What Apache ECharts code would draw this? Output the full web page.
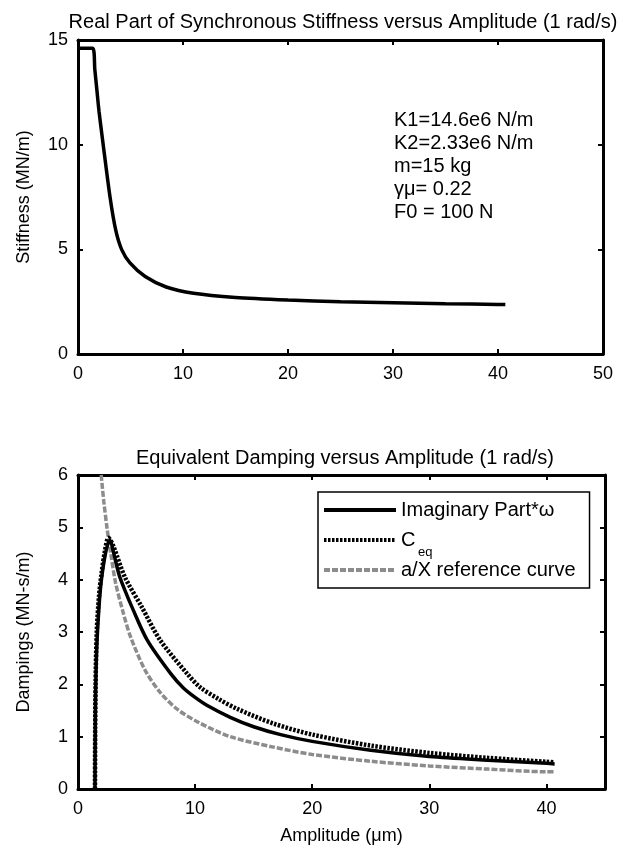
<!DOCTYPE html>
<html><head><meta charset="utf-8">
<script src="https://cdn.jsdelivr.net/npm/echarts@6/dist/echarts.min.js"></script>
<style>html,body{margin:0;padding:0;background:#fff}#c{width:623px;height:852px}</style>
</head><body><div id="c"></div>
<script>
// Top plot: real part of synchronous stiffness (MN/m) vs amplitude (um)
const stiffX = [0, 1.4, 1.6, 1.8, 2.0, 2.4, 3.05, 3.6, 4.15, 4.95, 6.4, 8.4, 11, 15, 20, 25, 30, 35, 40, 40.7];
const stiffY = [14.6, 14.6, 13.6, 12.6, 11.6, 10.0, 7.5, 5.9, 5.0, 4.35, 3.7, 3.2, 2.9, 2.7, 2.58, 2.5, 2.45, 2.4, 2.37, 2.36];

// Bottom plot: damping (MN-s/m) vs amplitude (um)
const imagX = [1.45, 1.47, 1.5, 1.6, 1.8, 2.0, 2.3, 2.6, 2.75, 3.0, 3.5, 4.0, 4.6, 5.9, 7.9, 9, 10, 11, 13, 15, 17.3, 20, 25, 30, 35, 40, 40.7];
const imagY = [0, 1.0, 1.8, 2.7, 3.5, 4.0, 4.45, 4.72, 4.75, 4.55, 4.1, 3.8, 3.48, 2.85, 2.21, 1.93, 1.75, 1.6, 1.37, 1.19, 1.04, 0.91, 0.74, 0.62, 0.55, 0.49, 0.48];
const ceqX = [1.45, 1.47, 1.5, 1.6, 1.8, 2.0, 2.3, 2.6, 3.0, 4.0, 5.44, 7.0, 9.3, 10.4, 12, 13.6, 16.7, 20, 25, 30, 35, 40, 40.7];
const ceqY = [0, 1.2, 2.0, 3.0, 3.7, 4.1, 4.55, 4.8, 4.65, 4.05, 3.48, 2.85, 2.21, 1.95, 1.72, 1.53, 1.25, 1.04, 0.83, 0.69, 0.595, 0.52, 0.51];
const refX = [1.98, 2.2, 2.5, 2.8, 3.2, 3.87, 4.5, 5.73, 7.0, 8.5, 10.4, 13, 16.7, 20, 25, 30, 35, 40, 40.7];
const refY = [6.0, 5.5, 4.95, 4.5, 3.95, 3.36, 2.9, 2.27, 1.85, 1.52, 1.26, 1.0, 0.8, 0.66, 0.53, 0.44, 0.38, 0.33, 0.33];

const topTicksX = [0, 10, 20, 30, 40, 50];
const topTicksY = [0, 5, 10, 15];
const botTicksX = [0, 10, 20, 30, 40];
const botTicksY = [0, 1, 2, 3, 4, 5, 6];

const notes = ['K1=14.6e6 N/m', 'K2=2.33e6 N/m', 'm=15 kg', '\u03b3\u03bc= 0.22', 'F0 = 100 N'];
const seriesNames = ['Imaginary Part*\u03c9', 'C', 'a/X reference curve'];
const subscript = 'eq';

const zip = (xs, ys) => xs.map((x, i) => [x, ys[i]]);
const FONT = 'Liberation Sans, Arial, sans-serif';
const lbl = {color: '#000', fontSize: 18, fontFamily: FONT};

function xAx(gi, min, max, ticks, pos, showLabels, name) {
  return {
    type: 'value', gridIndex: gi, min, max, interval: 10, position: pos,
    axisLine: {show: true, onZero: false, lineStyle: {color: '#000', width: 3}},
    axisTick: {show: true, inside: true, length: 5, lineStyle: {color: '#000', width: 2}, customValues: ticks},
    axisLabel: {show: showLabels, ...lbl, margin: 11, customValues: ticks},
    splitLine: {show: false},
    name: name || '', nameLocation: 'middle', nameGap: 38,
    nameTextStyle: {color: '#000', fontSize: 18, fontFamily: FONT}
  };
}
function yAx(gi, min, max, interval, ticks, pos, showLabels, name) {
  return {
    type: 'value', gridIndex: gi, min, max, interval, position: pos,
    axisLine: {show: true, onZero: false, lineStyle: {color: '#000', width: 3}},
    axisTick: {show: true, inside: true, length: 5, lineStyle: {color: '#000', width: 2}, customValues: ticks},
    axisLabel: {show: showLabels, ...lbl, margin: 10, customValues: ticks},
    splitLine: {show: false},
    name: name || '', nameLocation: 'middle', nameGap: 45, nameRotate: 90,
    nameTextStyle: {color: '#000', fontSize: 18, fontFamily: FONT}
  };
}

const chart = echarts.init(document.getElementById('c'), null, {renderer: 'canvas'});
chart.setOption({
  backgroundColor: '#fff',
  animation: false,
  title: [
    {text: 'Real Part of Synchronous Stiffness versus Amplitude (1 rad/s)', left: 338, top: 7, textAlign: 'center',
     textStyle: {fontSize: 20, fontWeight: 'normal', color: '#000', fontFamily: FONT}},
    {text: 'Equivalent Damping versus Amplitude (1 rad/s)', left: 340, top: 443, textAlign: 'center',
     textStyle: {fontSize: 20, fontWeight: 'normal', color: '#000', fontFamily: FONT}}
  ],
  grid: [
    {left: 78, right: 20, top: 40, height: 314, show: false},
    {left: 78, right: 18, top: 475, height: 314, show: false}
  ],
  xAxis: [
    xAx(0, 0, 50, topTicksX, 'bottom', true),
    xAx(0, 0, 50, topTicksX, 'top', false),
    xAx(1, 0, 45, botTicksX, 'bottom', true, 'Amplitude (\u03bcm)'),
    xAx(1, 0, 45, botTicksX, 'top', false)
  ],
  yAxis: [
    yAx(0, 0, 15, 5, topTicksY, 'left', true, 'Stiffness (MN/m)'),
    yAx(0, 0, 15, 5, topTicksY, 'right', false),
    yAx(1, 0, 6, 1, botTicksY, 'left', true, 'Dampings (MN-s/m)'),
    yAx(1, 0, 6, 1, botTicksY, 'right', false)
  ],
  legend: {
    data: seriesNames,
    orient: 'vertical', left: 318, top: 492,
    itemWidth: 72, itemHeight: 14, itemGap: 10,
    padding: [8, 14, 8, 4],
    itemStyle: {opacity: 0},
    lineStyle: {width: 4},
    borderColor: '#000', borderWidth: 1.5, backgroundColor: '#fff',
    textStyle: {color: '#000', fontSize: 20, fontFamily: FONT, lineHeight: 20}
  },
  series: [
    {name: 'Stiffness', type: 'line', xAxisIndex: 0, yAxisIndex: 0, data: zip(stiffX, stiffY),
     symbol: 'none', smooth: 0.25, lineStyle: {color: '#000', width: 3.5}},
    {name: seriesNames[2], type: 'line', xAxisIndex: 2, yAxisIndex: 2, data: zip(refX, refY),
     symbol: 'none', smooth: 0.3, clip: true, z: 2,
     lineStyle: {color: '#8c8c8c', width: 3.5, type: [6, 2]}},
    {name: seriesNames[1], type: 'line', xAxisIndex: 2, yAxisIndex: 2, data: zip(ceqX, ceqY),
     symbol: 'none', smooth: 0.3, z: 3,
     lineStyle: {color: '#000', width: 4.5, type: [2.5, 1.5]}},
    {name: seriesNames[0], type: 'line', xAxisIndex: 2, yAxisIndex: 2, data: zip(imagX, imagY),
     symbol: 'none', smooth: 0.3, z: 4,
     lineStyle: {color: '#000', width: 3.5}}
  ],
  graphic: notes.map((t, i) => ({
    type: 'text', left: 394, top: 110 + i * 23,
    style: {text: t, fill: '#000', fontSize: 20, fontFamily: FONT}
  })).concat([{
    type: 'text', left: 418, top: 546, z: 100,
    style: {text: subscript, fill: '#000', fontSize: 13, fontFamily: FONT}
  }])
});
</script></body></html>
